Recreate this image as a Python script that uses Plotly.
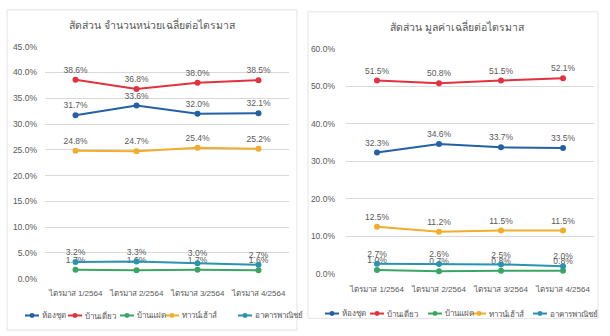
import plotly.graph_objects as go

quarters = ["ไตรมาส 1/2564", "ไตรมาส 2/2564", "ไตรมาส 3/2564", "ไตรมาส 4/2564"]
series_names = ["ห้องชุด", "บ้านเดี่ยว", "บ้านแฝด", "ทาวน์เฮ้าส์", "อาคารพาณิชย์"]
colors = ["#2261a6", "#e0323f", "#3ba565", "#f2ad2a", "#2b93ad"]

# Left: share of average units per quarter (%)
units_condo = [31.7, 33.6, 32.0, 32.1]
units_detached = [38.6, 36.8, 38.0, 38.5]
units_semi = [1.7, 1.6, 1.7, 1.6]
units_town = [24.8, 24.7, 25.4, 25.2]
units_shop = [3.2, 3.3, 3.0, 2.7]

# Right: share of average value per quarter (%)
value_condo = [32.3, 34.6, 33.7, 33.5]
value_detached = [51.5, 50.8, 51.5, 52.1]
value_semi = [1.0, 0.7, 0.8, 0.8]
value_town = [12.5, 11.2, 11.5, 11.5]
value_shop = [2.7, 2.6, 2.5, 2.0]

left_title = "สัดส่วน จำนวนหน่วยเฉลี่ยต่อไตรมาส"
right_title = "สัดส่วน มูลค่าเฉลี่ยต่อไตรมาส"

left_ticks = [0, 5, 10, 15, 20, 25, 30, 35, 40, 45]
right_ticks = [0, 10, 20, 30, 40, 50, 60]

W, H = 610, 336
FONT = "Liberation Sans, Arial, sans-serif"
GRAY = "#595959"
GRID = "#d9d9d9"

fig = go.Figure()

left_data = [units_condo, units_detached, units_semi, units_town, units_shop]
right_data = [value_condo, value_detached, value_semi, value_town, value_shop]

for name, col, vals in zip(series_names, colors, left_data):
    fig.add_trace(go.Scatter(
        x=quarters, y=vals, name=name, mode="lines+markers+text",
        line=dict(color=col, width=2), marker=dict(color=col, size=6),
        text=[f"{v:.1f}%" for v in vals], textposition="top center",
        textfont=dict(size=8.5, color=GRAY, family=FONT),
        xaxis="x", yaxis="y", showlegend=False, cliponaxis=False))

for name, col, vals in zip(series_names, colors, right_data):
    fig.add_trace(go.Scatter(
        x=quarters, y=vals, name=name, mode="lines+markers+text",
        line=dict(color=col, width=2), marker=dict(color=col, size=6),
        text=[f"{v:.1f}%" for v in vals], textposition="top center",
        textfont=dict(size=8.5, color=GRAY, family=FONT),
        xaxis="x2", yaxis="y2", showlegend=False, cliponaxis=False))

def px(v):
    return v / W

def py(v):
    return 1 - v / H

yaxis_common = dict(showgrid=True, gridcolor=GRID, gridwidth=1, zeroline=False,
                    tickfont=dict(size=8.5, color=GRAY, family=FONT),
                    showline=False, ticks="", fixedrange=True)
xaxis_common = dict(showgrid=False, zeroline=False, showline=False, ticks="",
                    tickfont=dict(size=8, color=GRAY, family=FONT), fixedrange=True,
                    range=[-0.5, 3.5])

annotations = [
    dict(text=left_title, x=px(152), y=py(20), xref="paper", yref="paper", xanchor="center",
         yanchor="middle", showarrow=False, font=dict(size=10.5, color=GRAY, family=FONT)),
    dict(text=right_title, x=px(457), y=py(23), xref="paper", yref="paper", xanchor="center",
         yanchor="middle", showarrow=False, font=dict(size=10.5, color=GRAY, family=FONT)),
]
shapes = [
    dict(type="rect", xref="paper", yref="paper", x0=px(7), x1=px(297), y0=py(335), y1=py(5),
         line=dict(color="#e3e3e3", width=1), layer="below"),
    dict(type="rect", xref="paper", yref="paper", x0=px(308), x1=px(598), y0=py(323), y1=py(7),
         line=dict(color="#e3e3e3", width=1), layer="below"),
]

# Compact legends (one per panel), laid out like the reference
legend_left_x = [25, 68, 120, 165, 238]
legend_right_x = [325, 370, 428, 472, 533]
for xs, ly in ((legend_left_x, 320), (legend_right_x, 318)):
    for x0, name, col in zip(xs, series_names, colors):
        shapes.append(dict(type="line", xref="paper", yref="paper", x0=px(x0), x1=px(x0 + 14),
                           y0=py(ly), y1=py(ly), line=dict(color=col, width=2)))
        shapes.append(dict(type="circle", xref="paper", yref="paper", x0=px(x0 + 4.5), x1=px(x0 + 9.5),
                           y0=py(ly + 2.5), y1=py(ly - 2.5), fillcolor=col, line=dict(width=0)))
        annotations.append(dict(text=name, x=px(x0 + 15), y=py(ly), xref="paper", yref="paper",
                                xanchor="left", yanchor="middle", showarrow=False,
                                font=dict(size=8, color=GRAY, family=FONT)))

fig.update_layout(
    width=W, height=H, margin=dict(l=0, r=0, t=0, b=0),
    paper_bgcolor="white", plot_bgcolor="white",
    font=dict(family=FONT, color=GRAY),
    showlegend=False,
    xaxis=dict(domain=[px(45), px(289)], anchor="y", ticklabelstandoff=8, **xaxis_common),
    yaxis=dict(domain=[py(282), py(43)], range=[0, 45], tickvals=left_ticks,
               ticktext=[f"{t:.1f}%" for t in left_ticks], anchor="x",
               ticklabelstandoff=7, **yaxis_common),
    xaxis2=dict(domain=[px(346), px(594)], anchor="y2", ticklabelstandoff=9, **xaxis_common),
    yaxis2=dict(domain=[py(277), py(45)], range=[0, 60], tickvals=right_ticks,
                ticktext=[f"{t:.1f}%" for t in right_ticks], anchor="x2",
                ticklabelstandoff=10, **yaxis_common),
    annotations=annotations,
    shapes=shapes,
)

fig.write_html("out.html")
